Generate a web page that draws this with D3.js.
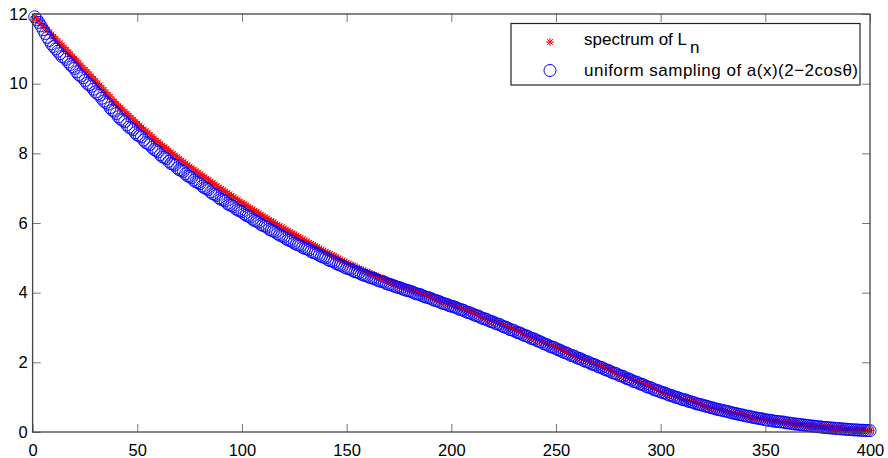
<!DOCTYPE html>
<html>
<head>
<meta charset="utf-8">
<script src="https://cdn.jsdelivr.net/npm/d3@7/dist/d3.min.js"></script>
<style>
  html, body { margin: 0; padding: 0; background: #fff; }
  svg { display: block; }
  text { font-family: "Liberation Sans", Arial, Helvetica, sans-serif; }
</style>
</head>
<body>
<svg id="chart" width="888" height="458"></svg>
<script>
// eigenvalue index 1..400
const sampleIndex = d3.range(1, 401);

// red asterisks: spectrum of L_n (sorted decreasing)
const spectrumValues = [
11.92,11.86,11.80,11.73,11.67,11.61,11.54,11.48,11.41,11.35,
11.29,11.22,11.16,11.10,11.04,10.97,10.91,10.85,10.78,10.72,
10.66,10.59,10.53,10.46,10.40,10.34,10.27,10.21,10.14,10.08,
10.01,9.95,9.88,9.82,9.75,9.68,9.62,9.55,9.49,9.42,
9.36,9.31,9.25,9.19,9.14,9.08,9.02,8.96,8.91,8.85,
8.80,8.74,8.69,8.64,8.59,8.53,8.48,8.43,8.37,8.32,
8.27,8.22,8.18,8.13,8.08,8.03,7.98,7.94,7.89,7.84,
7.80,7.75,7.71,7.66,7.62,7.58,7.53,7.49,7.44,7.40,
7.36,7.32,7.27,7.23,7.19,7.15,7.11,7.06,7.02,6.98,
6.94,6.90,6.86,6.82,6.78,6.74,6.70,6.66,6.62,6.58,
6.54,6.50,6.47,6.43,6.39,6.35,6.31,6.28,6.24,6.20,
6.16,6.13,6.09,6.06,6.02,5.98,5.95,5.91,5.88,5.84,
5.81,5.77,5.74,5.70,5.67,5.64,5.60,5.57,5.53,5.50,
5.47,5.43,5.40,5.37,5.34,5.30,5.27,5.24,5.20,5.17,
5.14,5.11,5.08,5.05,5.02,4.98,4.95,4.92,4.89,4.86,
4.83,4.80,4.78,4.75,4.72,4.69,4.66,4.64,4.61,4.58,
4.56,4.53,4.51,4.48,4.46,4.43,4.41,4.38,4.36,4.33,
4.31,4.28,4.26,4.24,4.22,4.19,4.17,4.15,4.12,4.10,
4.08,4.06,4.03,4.01,3.99,3.97,3.95,3.92,3.90,3.88,
3.86,3.84,3.81,3.79,3.77,3.75,3.73,3.70,3.68,3.66,
3.64,3.61,3.59,3.56,3.54,3.52,3.49,3.47,3.44,3.42,
3.40,3.37,3.35,3.32,3.30,3.28,3.25,3.23,3.20,3.18,
3.16,3.13,3.11,3.08,3.06,3.03,3.01,2.98,2.96,2.93,
2.91,2.88,2.86,2.83,2.81,2.78,2.76,2.73,2.71,2.68,
2.65,2.63,2.60,2.58,2.55,2.52,2.50,2.47,2.45,2.42,
2.39,2.37,2.34,2.32,2.29,2.26,2.24,2.21,2.19,2.16,
2.14,2.11,2.09,2.06,2.04,2.01,1.99,1.96,1.94,1.91,
1.89,1.86,1.84,1.81,1.79,1.76,1.74,1.71,1.69,1.66,
1.64,1.61,1.59,1.56,1.54,1.51,1.49,1.46,1.44,1.41,
1.39,1.36,1.34,1.32,1.29,1.27,1.24,1.22,1.19,1.17,
1.15,1.13,1.11,1.09,1.07,1.04,1.02,1.00,0.98,0.96,
0.94,0.92,0.91,0.89,0.87,0.85,0.83,0.82,0.80,0.78,
0.76,0.75,0.73,0.72,0.70,0.68,0.67,0.65,0.64,0.62,
0.61,0.59,0.58,0.56,0.55,0.54,0.52,0.51,0.49,0.48,
0.47,0.46,0.44,0.43,0.42,0.41,0.40,0.38,0.37,0.36,
0.35,0.34,0.33,0.32,0.32,0.31,0.30,0.29,0.28,0.27,
0.26,0.25,0.25,0.24,0.23,0.22,0.21,0.21,0.20,0.19,
0.18,0.18,0.17,0.16,0.16,0.15,0.14,0.13,0.13,0.12,
0.12,0.11,0.11,0.10,0.10,0.09,0.09,0.08,0.08,0.07,
0.07,0.07,0.06,0.06,0.06,0.05,0.05,0.05,0.04,0.04
];

// blue circles: uniform sampling of a(x)(2-2cos theta) (sorted decreasing)
const samplingValues = [
11.92,11.84,11.76,11.66,11.55,11.44,11.33,11.24,11.14,11.07,
11.00,10.93,10.86,10.78,10.76,10.70,10.62,10.55,10.49,10.44,
10.34,10.26,10.22,10.17,10.09,10.01,9.97,9.92,9.84,9.76,
9.71,9.67,9.58,9.50,9.46,9.41,9.31,9.24,9.21,9.14,
9.05,8.98,8.95,8.91,8.82,8.75,8.72,8.68,8.59,8.53,
8.50,8.47,8.38,8.31,8.28,8.25,8.17,8.11,8.08,8.04,
7.96,7.90,7.88,7.85,7.77,7.71,7.69,7.66,7.58,7.53,
7.51,7.48,7.41,7.35,7.33,7.30,7.23,7.18,7.16,7.13,
7.06,7.01,6.99,6.96,6.89,6.84,6.82,6.79,6.72,6.68,
6.66,6.63,6.56,6.52,6.50,6.47,6.41,6.37,6.35,6.32,
6.26,6.22,6.20,6.17,6.11,6.07,6.05,6.02,5.96,5.93,
5.91,5.88,5.82,5.79,5.77,5.74,5.69,5.65,5.63,5.60,
5.55,5.51,5.50,5.47,5.42,5.39,5.37,5.35,5.30,5.27,
5.26,5.23,5.18,5.15,5.14,5.11,5.07,5.04,5.02,5.00,
4.95,4.92,4.91,4.88,4.84,4.81,4.79,4.77,4.73,4.70,
4.69,4.67,4.63,4.60,4.59,4.57,4.53,4.51,4.49,4.47,
4.44,4.42,4.41,4.38,4.35,4.33,4.32,4.30,4.26,4.24,
4.23,4.21,4.18,4.16,4.15,4.13,4.10,4.08,4.06,4.05,
4.03,4.00,3.97,3.96,3.95,3.92,3.89,3.87,3.86,3.84,
3.81,3.78,3.77,3.75,3.72,3.69,3.68,3.66,3.63,3.61,
3.60,3.58,3.55,3.52,3.51,3.49,3.45,3.43,3.42,3.39,
3.36,3.34,3.33,3.29,3.26,3.25,3.23,3.19,3.17,3.16,
3.12,3.10,3.09,3.05,3.02,3.01,2.98,2.94,2.93,2.91,
2.87,2.85,2.84,2.80,2.77,2.76,2.73,2.69,2.68,2.66,
2.62,2.60,2.58,2.54,2.52,2.50,2.46,2.44,2.43,2.39,
2.36,2.35,2.31,2.28,2.27,2.24,2.20,2.19,2.17,2.13,
2.11,2.10,2.06,2.03,2.02,1.99,1.95,1.94,1.92,1.88,
1.86,1.85,1.81,1.78,1.77,1.74,1.70,1.69,1.67,1.63,
1.61,1.60,1.56,1.53,1.52,1.49,1.45,1.44,1.42,1.38,
1.37,1.35,1.31,1.29,1.28,1.25,1.21,1.20,1.18,1.15,
1.13,1.12,1.09,1.06,1.05,1.03,1.00,0.99,0.97,0.94,
0.93,0.92,0.89,0.87,0.86,0.84,0.81,0.80,0.79,0.77,
0.75,0.74,0.72,0.70,0.69,0.67,0.65,0.64,0.63,0.61,
0.60,0.59,0.57,0.55,0.54,0.53,0.51,0.50,0.49,0.47,
0.46,0.45,0.44,0.42,0.41,0.40,0.39,0.38,0.37,0.35,
0.34,0.34,0.33,0.31,0.31,0.30,0.29,0.29,0.28,0.26,
0.26,0.25,0.24,0.23,0.23,0.22,0.21,0.20,0.20,0.19,
0.18,0.17,0.17,0.16,0.15,0.15,0.14,0.13,0.13,0.12,
0.12,0.11,0.11,0.10,0.10,0.09,0.09,0.08,0.08,0.07,
0.07,0.06,0.06,0.06,0.05,0.05,0.05,0.04,0.04,0.04
];

const xTicks = [0, 50, 100, 150, 200, 250, 300, 350, 400];
const yTicks = [0, 2, 4, 6, 8, 10, 12];
const seriesNames = ["spectrum of L", "uniform sampling of a(x)(2\u22122cos\u03b8)"];

const svg = d3.select("#chart");
const x = d3.scaleLinear().domain([0, 400]).range([32.6, 870]);
const y = d3.scaleLinear().domain([0, 12]).range([432, 14]);

const fontSize = 16.5;

// asterisk marker (+ and x combined)
const s = 4, dd = s * 0.72;
const starPath = `M${-s},0L${s},0M0,${-s}L0,${s}M${-dd},${-dd}L${dd},${dd}M${-dd},${dd}L${dd},${-dd}`;

svg.append("g").selectAll("path").data(sampleIndex).join("path")
  .attr("d", starPath)
  .attr("transform", (d, i) => `translate(${x(d)},${y(spectrumValues[i])})`)
  .attr("fill", "none").attr("stroke", "#ff0000").attr("stroke-width", 1);

svg.append("g").selectAll("circle").data(sampleIndex).join("circle")
  .attr("cx", d => x(d))
  .attr("cy", (d, i) => y(samplingValues[i]))
  .attr("r", 6)
  .attr("fill", "none").attr("stroke", "#0000ff").attr("stroke-width", 0.9);

// axes (ticks inward on all four sides)
function styleAxis(g) {
  g.select(".domain").remove();
  g.selectAll(".tick line").attr("stroke", "#777").attr("stroke-width", 1);
  g.selectAll(".tick text").attr("fill", "#000").style("font-size", fontSize + "px")
    .style("font-family", '"Liberation Sans", Arial, Helvetica, sans-serif');
}
svg.append("g").attr("transform", `translate(0,${y(0)})`)
  .call(d3.axisBottom(x).tickValues(xTicks).tickSize(-8).tickPadding(12)).call(styleAxis);
svg.append("g").attr("transform", `translate(0,${y(12)})`)
  .call(d3.axisTop(x).tickValues(xTicks).tickSize(-8).tickFormat("")).call(styleAxis);
svg.append("g").attr("transform", `translate(${x(0)},0)`)
  .call(d3.axisLeft(y).tickValues(yTicks).tickSize(-8).tickPadding(5)).call(styleAxis);
svg.append("g").attr("transform", `translate(${x(400)},0)`)
  .call(d3.axisRight(y).tickValues(yTicks).tickSize(-8).tickFormat("")).call(styleAxis);

// frame
svg.append("rect")
  .attr("x", x(0)).attr("y", y(12))
  .attr("width", x(400) - x(0)).attr("height", y(0) - y(12))
  .attr("fill", "none").attr("stroke", "#444").attr("stroke-width", 1.3);

// legend
const lg = svg.append("g");
lg.append("rect").attr("x", 511).attr("y", 23.5).attr("width", 349).attr("height", 61.5)
  .attr("fill", "#fff").attr("stroke", "#222").attr("stroke-width", 1.2);
lg.append("path").attr("d", starPath).attr("transform", "translate(550,42)")
  .attr("fill", "none").attr("stroke", "#ff0000").attr("stroke-width", 1);
lg.append("circle").attr("cx", 550).attr("cy", 70.5).attr("r", 6)
  .attr("fill", "none").attr("stroke", "#0000ff").attr("stroke-width", 1);
const t1 = lg.append("text").attr("x", 584).attr("y", 45).style("font-size", "17px");
t1.append("tspan").text(seriesNames[0]);
t1.append("tspan").attr("dx", 3).attr("dy", 8).text("n");
lg.append("text").attr("x", 584).attr("y", 75.5).style("font-size", "17px")
  .attr("textLength", 274).attr("lengthAdjust", "spacing").text(seriesNames[1]);
</script>
</body>
</html>
